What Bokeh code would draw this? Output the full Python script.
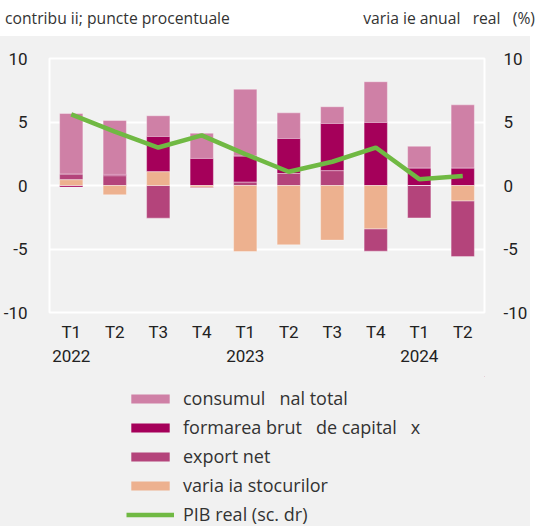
from bokeh.plotting import figure
from bokeh.models import (Range1d, LinearAxis, FixedTicker, Legend, LegendItem,
                          ColumnDataSource, Div)
from bokeh.layouts import column
from bokeh.embed import file_html
from bokeh.resources import INLINE

# ---- data ----
quarters = ["T1", "T2", "T3", "T4", "T1", "T2", "T3", "T4", "T1", "T2"]
years = ["2022", "", "", "", "2023", "", "", "", "2024", ""]
consum = [4.78, 4.25, 1.63, 1.99, 5.27, 2.02, 1.32, 3.21, 1.73, 4.99]
formarea = [-0.12, 0.11, 2.78, 2.13, 2.05, 2.76, 3.72, 4.96, 1.36, 1.36]
export_net = [0.44, 0.76, -2.57, -0.07, 0.26, 0.94, 1.16, -1.76, -2.55, -4.39]
stocuri = [0.45, -0.73, 1.08, -0.13, -5.20, -4.67, -4.30, -3.41, 0.0, -1.21]
pib = [5.6, 4.24, 2.99, 3.95, 2.47, 1.08, 1.87, 2.99, 0.5, 0.74]
y_ticks = [-10, -5, 0, 5, 10]
y_tick_labels = ["-10", "-5", "0", "5", "10"]

series_names = ["consumul   nal total", "formarea brut   de capital   x",
                "export net", "varia ia stocurilor"]
line_name = "PIB real (sc. dr)"
subtitle_left = "contribu ii; puncte procentuale"
subtitle_right = "varia ie anual\u00a0\u00a0 real\u00a0\u00a0 (%)"

colors = {"consum": "#cf80a6", "formarea": "#a5005a", "export": "#b4447b",
          "stocuri": "#edb18f"}
green = "#70b943"
bg = "#f1f1f1"
FONT_AX = "Roboto"
FONT_TX = "Open Sans"

n = len(quarters)
xs = list(range(n))

# stacking order from zero: stocuri, export, formarea, consum
order = [("stocuri", stocuri), ("export", export_net), ("formarea", formarea), ("consum", consum)]
pos = [0.0] * n
neg = [0.0] * n
stacks = {}
for key, vals in order:
    bottoms, tops = [], []
    for i, v in enumerate(vals):
        if v >= 0:
            bottoms.append(pos[i]); tops.append(pos[i] + v); pos[i] += v
        else:
            tops.append(neg[i]); bottoms.append(neg[i] + v); neg[i] += v
    stacks[key] = ColumnDataSource(dict(x=xs, bottom=bottoms, top=tops))

W = 530
H1 = 340
H2 = 150
p = figure(width=W, height=H1, output_backend="svg", toolbar_location=None,
           x_range=Range1d(-0.5, 9.5), y_range=Range1d(-10, 10),
           min_border_left=49, min_border_right=39, min_border_top=22,
           min_border_bottom=H1 - 276)
p.background_fill_color = bg
p.border_fill_color = bg
p.outline_line_color = "white"
p.outline_line_width = 2
p.xgrid.grid_line_color = None
p.ygrid.grid_line_color = "white"
p.ygrid.grid_line_width = 2
p.ygrid.ticker = FixedTicker(ticks=[-5, 0, 5])

p.extra_y_ranges = {"right": Range1d(-10, 10)}

for key in ["consum", "formarea", "export", "stocuri"]:
    p.vbar(x="x", bottom="bottom", top="top", width=0.535,
           source=stacks[key], fill_color=colors[key],
           line_color="white", line_alpha=0.35, line_width=1)

line_src = ColumnDataSource(dict(x=xs, y=pib))
p.line("x", "y", source=line_src, y_range_name="right",
       line_color=green, line_width=4.5)

# axes
ytick = FixedTicker(ticks=y_ticks)
ylabels = dict(zip(y_ticks, y_tick_labels))
p.yaxis[0].ticker = ytick
right_ax = LinearAxis(y_range_name="right", ticker=ytick)
p.add_layout(right_ax, "right")

for ax in [p.yaxis[0], right_ax]:
    ax.axis_line_color = None
    ax.major_tick_line_color = None
    ax.minor_tick_line_color = None
    ax.major_label_overrides = ylabels
    ax.major_label_text_font = FONT_AX
    ax.major_label_text_font_size = "17px"
    ax.major_label_text_color = "#222222"
p.yaxis[0].major_label_standoff = 16
right_ax.major_label_standoff = 13

xa = p.xaxis[0]
xa.ticker = FixedTicker(ticks=xs)
xa.major_label_overrides = {i: (quarters[i] + ("\n" + years[i] if years[i] else ""))
                            for i in xs}
xa.axis_line_color = None
xa.major_tick_line_color = None
xa.minor_tick_line_color = None
xa.major_label_text_font = FONT_AX
xa.major_label_text_font_size = "17px"
xa.major_label_text_color = "#222222"
xa.major_label_standoff = 3

# ---- legend panel (separate figure below the chart) ----
q = figure(width=W, height=H2, output_backend="svg", toolbar_location=None,
           x_range=Range1d(0, 1), y_range=Range1d(0, 1),
           x_axis_location=None, y_axis_location=None,
           min_border_left=0, min_border_right=0, min_border_top=0, min_border_bottom=0)
q.grid.visible = False
q.outline_line_color = None
q.background_fill_color = bg
q.border_fill_color = bg
# one point outside the visible range so the legend swatches have style values
off = ColumnDataSource(dict(x=[5], bottom=[5], top=[6], y=[5]))
leg_r = []
for key in ["consum", "formarea", "export", "stocuri"]:
    leg_r.append(q.vbar(x="x", bottom="bottom", top="top", width=0.5, source=off,
                        fill_color=colors[key], line_color=None))
leg_r.append(q.line("x", "y", source=off, line_color=green, line_width=4.5))
labels = series_names + [line_name]
items = [LegendItem(label=lab, renderers=[r]) for lab, r in zip(labels, leg_r)]
legend = Legend(items=items, location=(77, 0), padding=0, margin=0,
                glyph_width=48, glyph_height=11, label_height=18, spacing=5,
                label_standoff=9, background_fill_alpha=0, border_line_alpha=0,
                label_text_font=FONT_TX, label_text_font_size="18px",
                label_text_color="#333333")
q.add_layout(legend, "center")

div = Div(text=(f'<div style="display:flex;justify-content:space-between;'
                f'font-family:\'{FONT_TX}\';font-size:15.7px;color:#333;line-height:26px;'
                f'width:{W}px;white-space:pre;">'
                f'<span>{subtitle_left}</span><span>{subtitle_right}</span></div>'),
          width=W, height=26)

chart = column(p, q, spacing=0, styles={"background-color": bg})
layout = column(div, chart, spacing=0)
open("out.html", "w").write(file_html(layout, INLINE))
